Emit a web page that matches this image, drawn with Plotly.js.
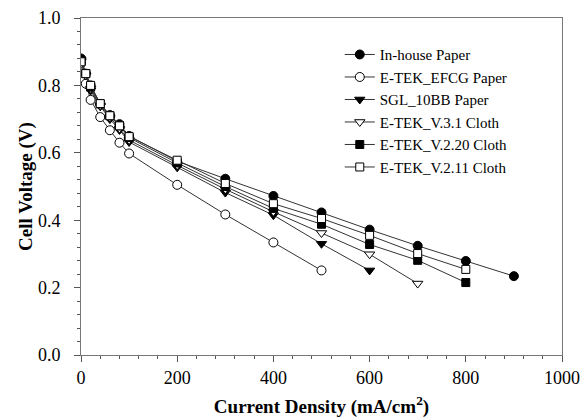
<!DOCTYPE html>
<html>
<head>
<meta charset="utf-8">
<script src="https://cdn.plot.ly/plotly-3.0.1.min.js"></script>
<style>html,body{margin:0;padding:0;background:#fff;}#chart{width:582px;height:420px;}</style>
</head>
<body>
<div id="chart"></div>
<script>
var seriesNames = ["In-house Paper", "E-TEK_EFCG Paper", "SGL_10BB Paper", "E-TEK_V.3.1 Cloth", "E-TEK_V.2.20 Cloth", "E-TEK_V.2.11 Cloth"];
var currentDensity = [0, 10, 20, 40, 60, 80, 100, 200, 300, 400, 500, 600, 700, 800, 900];
var inHouse  = [0.880, 0.835, 0.800, 0.745, 0.712, 0.685, 0.650, 0.575, 0.523, 0.472, 0.423, 0.372, 0.324, 0.279, 0.234];
var efcg     = [0.865, 0.805, 0.757, 0.706, 0.667, 0.630, 0.598, 0.505, 0.417, 0.334, 0.251];
var sgl      = [0.875, 0.830, 0.785, 0.738, 0.700, 0.668, 0.632, 0.557, 0.482, 0.415, 0.330, 0.251];
var v31      = [0.870, 0.830, 0.790, 0.740, 0.705, 0.672, 0.638, 0.563, 0.492, 0.425, 0.362, 0.299, 0.212];
var v220     = [0.875, 0.835, 0.795, 0.745, 0.710, 0.680, 0.645, 0.570, 0.500, 0.435, 0.388, 0.328, 0.281, 0.215];
var v211     = [0.870, 0.835, 0.800, 0.746, 0.710, 0.680, 0.648, 0.578, 0.509, 0.449, 0.405, 0.355, 0.301, 0.254];

var allValues = [inHouse, efcg, sgl, v31, v220, v211];
var symbols = ["circle", "circle", "triangle-down", "triangle-down", "square", "square"];
var fills = ["#000", "#fff", "#000", "#fff", "#000", "#fff"];
var sizes = [9, 9, 9, 9, 8, 8];

var traces = allValues.map(function (vals, i) {
  return {
    x: currentDensity.slice(0, vals.length),
    y: vals,
    name: seriesNames[i],
    type: "scatter",
    mode: "lines+markers",
    line: {color: "#333", width: 1},
    marker: {symbol: symbols[i], size: sizes[i], color: fills[i], line: {color: "#000", width: 1}}
  };
});

var fam = "Liberation Serif";

var layout = {
  width: 582, height: 420,
  margin: {l: 81, r: 20, t: 18, b: 65},
  paper_bgcolor: "#fff", plot_bgcolor: "#fff",
  font: {family: fam, size: 16, color: "#000"},
  showlegend: true,
  legend: {
    x: 0.538, y: 0.94, xanchor: "left", yanchor: "top",
    bgcolor: "rgba(0,0,0,0)",
    font: {family: fam, size: 15, color: "#000"},
    tracegroupgap: 0, itemwidth: 30
  },
  xaxis: {
    range: [0, 1000], dtick: 200, tick0: 0,
    showline: true, linecolor: "#777", linewidth: 1, mirror: true,
    ticks: "outside", ticklen: 6, tickcolor: "#555",
    minor: {dtick: 40, ticks: "outside", ticklen: 3, tickcolor: "#555"},
    showgrid: false, zeroline: false,
    ticklabelstandoff: 0,
    tickfont: {family: fam, size: 18, color: "#000"},
    title: {text: "<b>Current Density (mA/cm<sup>2</sup>)</b>", font: {family: fam, size: 19, color: "#000"}, standoff: 13}
  },
  yaxis: {
    range: [0, 1.0], dtick: 0.2, tick0: 0, tickformat: ".1f",
    showline: true, linecolor: "#777", linewidth: 1, mirror: true,
    ticks: "outside", ticklen: 6, tickcolor: "#555",
    minor: {dtick: 0.04, ticks: "outside", ticklen: 3, tickcolor: "#555"},
    showgrid: false, zeroline: false,
    ticklabelstandoff: 10,
    tickfont: {family: fam, size: 18, color: "#000"},
    title: {text: "<b>Cell Voltage (V)</b>", font: {family: fam, size: 19, color: "#000"}, standoff: 0}
  }
};

Plotly.newPlot("chart", traces, layout, {displayModeBar: false, staticPlot: true});
</script>
</body>
</html>
